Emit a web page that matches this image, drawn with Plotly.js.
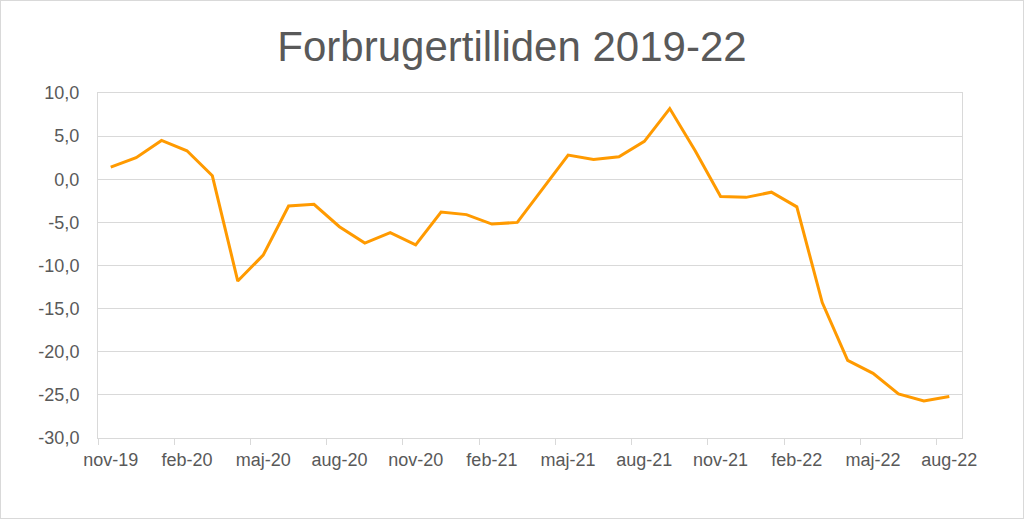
<!DOCTYPE html>
<html>
<head>
<meta charset="utf-8">
<script src="https://cdn.plot.ly/plotly-3.0.1.min.js"></script>
<style>
html,body{margin:0;padding:0;background:#fff;}
#wrap{position:relative;width:1024px;height:519px;box-sizing:border-box;border:1px solid #d9d9d9;overflow:hidden;}
#chart{position:absolute;left:-1px;top:-1px;width:1024px;height:519px;}
</style>
</head>
<body>
<div id="wrap"><div id="chart"></div></div>
<script>
const months = ["nov-19","dec-19","jan-20","feb-20","mar-20","apr-20","maj-20","jun-20","jul-20","aug-20","sep-20","okt-20",
  "nov-20","dec-20","jan-21","feb-21","mar-21","apr-21","maj-21","jun-21","jul-21","aug-21","sep-21","okt-21",
  "nov-21","dec-21","jan-22","feb-22","mar-22","apr-22","maj-22","jun-22","jul-22","aug-22"];
const confidence = [1.4, 2.5, 4.5, 3.3, 0.4, -11.8, -8.8, -3.1, -2.9, -5.5, -7.4, -6.2,
  -7.6, -3.8, -4.1, -5.2, -5.0, -1.1, 2.8, 2.3, 2.6, 4.4, 8.2, 3.3,
  -2.0, -2.1, -1.5, -3.2, -14.3, -21.0, -22.5, -24.9, -25.7, -25.2];
const yTickVals = [10, 5, 0, -5, -10, -15, -20, -25, -30];
const yTickText = ["10,0", "5,0", "0,0", "-5,0", "-10,0", "-15,0", "-20,0", "-25,0", "-30,0"];

const trace = {
  x: months,
  y: confidence,
  type: "scatter",
  mode: "lines",
  line: {color: "#FF9A00", width: 3},
  hoverinfo: "x+y"
};

const layout = {
  width: 1024,
  height: 519,
  paper_bgcolor: "#ffffff",
  plot_bgcolor: "#ffffff",
  margin: {l: 98, r: 62, t: 93, b: 81},
  showlegend: false,
  title: {
    text: "Forbrugertilliden 2019-22",
    font: {family: "Liberation Sans, Arial, sans-serif", size: 42, color: "#595959"},
    x: 0.5, xanchor: "center",
    y: 0.91, yanchor: "middle", yref: "container"
  },
  xaxis: {
    type: "category",
    range: [-0.5, 33.5],
    dtick: 3,
    tickangle: 0,
    tickson: "boundaries",
    ticks: "outside",
    ticklen: 6,
    tickcolor: "#d9d9d9",
    ticklabelstandoff: 5,
    showgrid: false,
    showline: true,
    linecolor: "#d9d9d9",
    linewidth: 1,
    mirror: true,
    tickfont: {family: "Liberation Sans, Arial, sans-serif", size: 18, color: "#595959"},
    zeroline: false,
    fixedrange: true
  },
  yaxis: {
    range: [-30, 10],
    tickmode: "array",
    tickvals: yTickVals,
    ticktext: yTickText,
    showgrid: true,
    gridcolor: "#d9d9d9",
    gridwidth: 1,
    showline: true,
    linecolor: "#d9d9d9",
    linewidth: 1,
    mirror: true,
    ticks: "",
    ticklabelstandoff: 14,
    tickfont: {family: "Liberation Sans, Arial, sans-serif", size: 18, color: "#595959"},
    zeroline: false,
    fixedrange: true
  }
};

Plotly.newPlot("chart", [trace], layout, {displayModeBar: false, staticPlot: true});
</script>
</body>
</html>
